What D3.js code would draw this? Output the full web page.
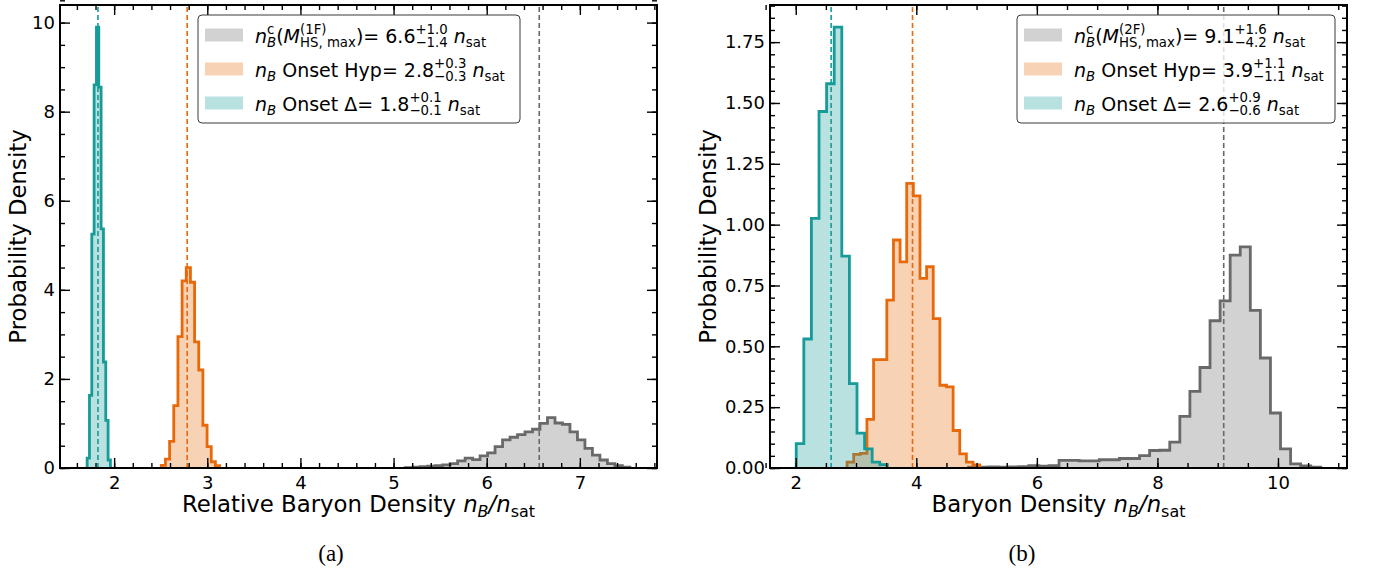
<!DOCTYPE html>
<html>
<head>
<meta charset="utf-8">
<script src="https://cdn.jsdelivr.net/npm/d3@7"></script>
<style>
  body { margin: 0; background: #fff; }
  svg { display: block; }
  text { white-space: pre; }
</style>
</head>
<body>
<svg id="fig" width="1377" height="569"></svg>
<script>
// ---------- panel (a): 1F model ----------
// histogram bins: first left edge, bin width, normalised densities
const aMaxStart = 5.125, aMaxWidth = 0.0804;
const aMaxDensity = [0.01, 0.02, 0.03, 0.04, 0.05, 0.07, 0.10, 0.16, 0.22, 0.19,
                     0.27, 0.34, 0.48, 0.63, 0.69, 0.75, 0.81, 0.87, 1.00, 1.13,
                     1.01, 0.98, 0.81, 0.63, 0.44, 0.29, 0.18, 0.10, 0.05, 0.02];
const aHypStart = 2.506, aHypWidth = 0.0447;
const aHypDensity = [0.06, 0.20, 0.60, 1.40, 2.95, 4.20, 4.50, 4.17, 2.83, 2.20, 0.96, 0.48, 0.14, 0.05];
const aDeltaStart = 1.71, aDeltaWidth = 0.025;
const aDeltaDensity = [0.22, 1.63, 5.25, 8.60, 9.90, 8.55, 5.37, 2.38, 1.07, 0.18];
// medians and spreads, order: max-mass density, hyperon onset, Delta onset
const aMedian = [6.564, 2.784, 1.826];
const aErrPlus = [1.0, 0.3, 0.1];
const aErrMinus = [1.4, 0.3, 0.1];
const aXTicks = [2, 3, 4, 5, 6, 7];
const aYTicks = [0, 2, 4, 6, 8, 10];

// ---------- panel (b): 2F model ----------
const bMaxStart = 4.865, bMaxWidth = 0.167;
const bMaxDensity = [0.004, 0.004, 0.005, 0.004, 0.005, 0.006, 0.010, 0.008, 0.010, 0.031,
                     0.031, 0.029, 0.029, 0.034, 0.034, 0.039, 0.039, 0.051, 0.072, 0.073,
                     0.106, 0.212, 0.315, 0.413, 0.605, 0.687, 0.875, 0.909, 0.648, 0.452,
                     0.226, 0.079, 0.017, 0.009, 0.004];
const bHypStart = 2.851, bHypWidth = 0.11;
const bHypDensity = [0.024, 0.056, 0.060, 0.200, 0.445, 0.445, 0.690, 0.937, 0.847, 1.170,
                     1.118, 0.779, 0.827, 0.614, 0.340, 0.333, 0.154, 0.058, 0.024, 0.013];
const bDeltaStart = 2.008, bDeltaWidth = 0.126;
const bDeltaDensity = [0.100, 0.530, 1.026, 1.465, 1.579, 1.812, 0.871, 0.347, 0.143, 0.079, 0.024, 0.014];
const bMedian = [9.1, 3.937, 2.587];
const bErrPlus = [1.6, 1.1, 0.9];
const bErrMinus = [4.2, 1.1, 0.6];
const bXTicks = [2, 4, 6, 8, 10];
const bYTicks = [0, 0.25, 0.5, 0.75, 1.0, 1.25, 1.5, 1.75];

// ---------- styling ----------
const colMax = "#696969", colHyp = "#e8690a", colDelta = "#179b98";
const FONT = "DejaVu Sans";
const svg = d3.select("#fig");
const fmt1 = d3.format(".1f");

// lay out a run of text pieces (italic / sub / sup / stacked) measured one by one
function mathText(parent, tokens, size, opts = {}) {
  const g = parent.append("g");
  let cx = 0, lastX = 0, lastW = 0;
  tokens.forEach(tok => {
    const fs = size * (tok.sc || 1);
    const x0 = tok.stack ? lastX : cx;
    const t = g.append("text")
      .attr("x", x0).attr("y", (tok.dy || 0) * size)
      .attr("font-family", FONT).attr("font-size", fs)
      .attr("font-style", tok.it ? "italic" : "normal")
      .attr("fill", "#000")
      .text(tok.s);
    const w = t.node().getComputedTextLength();
    if (tok.stack) {
      cx = lastX + Math.max(lastW, w);
      lastW = Math.max(lastW, w);
    } else {
      lastX = x0; lastW = w; cx = x0 + w;
    }
  });
  const total = cx;
  if (opts.rotate) {
    g.attr("transform", `translate(${opts.px},${opts.py}) rotate(-90) translate(${-total / 2},0)`);
  } else {
    g.attr("transform", `translate(${opts.px + (opts.anchor === "middle" ? -total / 2 : 0)},${opts.py})`);
  }
  return g;
}
const SUB = { sc: 0.7, dy: 0.22 }, SUP = { sc: 0.7, dy: -0.45 };
const nB = [{ s: "n", it: true }, { s: "B", it: true, ...SUB }];
const nSat = [{ s: "n", it: true }, { s: "sat", ...SUB }];
const errPair = (p, m) => [{ s: "+" + fmt1(p), ...SUP }, { s: "\u2212" + fmt1(m), ...SUB, stack: true }];

function histPoints(start, width, dens) {
  const pts = [[start, 0]];
  dens.forEach((v, i) => { pts.push([start + i * width, v]); pts.push([start + (i + 1) * width, v]); });
  pts.push([start + dens.length * width, 0]);
  return pts;
}

function panel(cfg) {
  const { box, series, xTicks, xMinor, yTicks, yMinor, yFmt, xLabel, yLabelX, legendBox, tag } = cfg;
  // matplotlib-like autoscale: 5% margin in x, 5% headroom in y
  const lo = d3.min(series, s => s.start);
  const hi = d3.max(series, s => s.start + s.dens.length * s.width);
  const pad = 0.05 * (hi - lo);
  const ymax = d3.max(series, s => d3.max(s.dens)) * 1.05;
  const x = d3.scaleLinear().domain([lo - pad, hi + pad]).range([box.x0, box.x1]);
  const y = d3.scaleLinear().domain([0, ymax]).range([box.y1, box.y0]);
  const g = svg.append("g");
  const line = d3.line().x(d => x(d[0])).y(d => y(d[1]));

  series.forEach(s => {
    const pts = histPoints(s.start, s.width, s.dens);
    g.append("path").attr("d", line(pts)).attr("fill", s.color).attr("fill-opacity", 0.3).attr("stroke", "none");
    g.append("path").attr("d", line(pts)).attr("fill", "none").attr("stroke", s.color)
      .attr("stroke-width", 2.8).attr("stroke-linejoin", "miter");
    g.append("line").attr("x1", x(s.median)).attr("x2", x(s.median))
      .attr("y1", box.y1).attr("y2", box.y0)
      .attr("stroke", s.color).attr("stroke-width", 1.6).attr("stroke-dasharray", "5,3");
  });

  // ticks pointing inward on all four sides
  const tickStyle = sel => {
    sel.select(".domain").remove();
    sel.selectAll(".tick line").attr("stroke", "#000").attr("stroke-width", 1.4);
    sel.selectAll("text").attr("font-family", FONT).attr("font-size", 18).attr("fill", "#000");
  };
  const ax = (gen, tx, ty) => g.append("g").attr("transform", `translate(${tx},${ty})`).call(gen).call(tickStyle);
  ax(d3.axisBottom(x).tickValues(xTicks).tickSize(-10).tickPadding(8).tickFormat(d3.format("d")), 0, box.y1);
  ax(d3.axisBottom(x).tickValues(xMinor).tickSize(-5).tickFormat(""), 0, box.y1);
  ax(d3.axisTop(x).tickValues(xTicks).tickSize(-10).tickFormat(""), 0, box.y0);
  ax(d3.axisTop(x).tickValues(xMinor).tickSize(-5).tickFormat(""), 0, box.y0);
  ax(d3.axisLeft(y).tickValues(yTicks).tickSize(-10).tickPadding(5).tickFormat(yFmt), box.x0, 0);
  ax(d3.axisLeft(y).tickValues(yMinor).tickSize(-5).tickFormat(""), box.x0, 0);
  ax(d3.axisRight(y).tickValues(yTicks).tickSize(-10).tickFormat(""), box.x1, 0);
  ax(d3.axisRight(y).tickValues(yMinor).tickSize(-5).tickFormat(""), box.x1, 0);

  g.append("rect").attr("x", box.x0).attr("y", box.y0)
    .attr("width", box.x1 - box.x0).attr("height", box.y1 - box.y0)
    .attr("fill", "none").attr("stroke", "#000").attr("stroke-width", 2);

  // axis titles
  mathText(g, xLabel, 22.8, { px: (box.x0 + box.x1) / 2, py: 512, anchor: "middle" });
  mathText(g, [{ s: "Probability Density" }], 22.8, { px: yLabelX, py: (box.y0 + box.y1) / 2, rotate: true });

  // legend
  const lg = g.append("g");
  lg.append("rect").attr("x", legendBox.x).attr("y", legendBox.y)
    .attr("width", legendBox.w).attr("height", legendBox.h).attr("rx", 4)
    .attr("fill", "#fff").attr("fill-opacity", 0.8).attr("stroke", "#3a3a3a").attr("stroke-width", 1);
  series.forEach((s, i) => {
    const cy = legendBox.y + 20 + i * 34;
    lg.append("rect").attr("x", legendBox.x + 7).attr("y", cy - 6.5).attr("width", 38).attr("height", 13)
      .attr("fill", s.color).attr("fill-opacity", 0.3);
    mathText(lg, s.label, 19, { px: legendBox.x + 57, py: cy + 7.5 });
  });

  svg.append("text").attr("x", tag.x).attr("y", 561).attr("text-anchor", "middle")
    .attr("font-family", "Liberation Serif").attr("font-size", 23).attr("fill", "#000").text(tag.s);
}

const minorTicks = (a, b, step) => d3.range(a, b + 1e-9, step).map(v => +v.toFixed(4));

panel({
  box: { x0: 60, x1: 657, y0: 5, y1: 468 },
  series: [
    { start: aMaxStart, width: aMaxWidth, dens: aMaxDensity, color: colMax, median: aMedian[0],
      label: [{ s: "n", it: true }, { s: "c", ...SUP }, { s: "B", it: true, ...SUB, stack: true },
              { s: "(" }, { s: "M", it: true }, { s: "(1F)", ...SUP }, { s: "HS, max", ...SUB, stack: true },
              { s: ")= " + fmt1(aMedian[0]) }, ...errPair(aErrPlus[0], aErrMinus[0]), { s: " " }, ...nSat] },
    { start: aHypStart, width: aHypWidth, dens: aHypDensity, color: colHyp, median: aMedian[1],
      label: [...nB, { s: " Onset Hyp= " + fmt1(aMedian[1]) }, ...errPair(aErrPlus[1], aErrMinus[1]), { s: " " }, ...nSat] },
    { start: aDeltaStart, width: aDeltaWidth, dens: aDeltaDensity, color: colDelta, median: aMedian[2],
      label: [...nB, { s: " Onset \u0394= " + fmt1(aMedian[2]) }, ...errPair(aErrPlus[2], aErrMinus[2]), { s: " " }, ...nSat] }
  ],
  xTicks: aXTicks, xMinor: minorTicks(1.6, 7.8, 0.2),
  yTicks: aYTicks, yMinor: minorTicks(0, 10.5, 0.5), yFmt: d3.format("d"),
  xLabel: [{ s: "Relative Baryon Density " }, ...nB, { s: "/", it: true }, ...nSat],
  yLabelX: 26,
  legendBox: { x: 198, y: 15, w: 322, h: 108 },
  tag: { x: 331, s: "(a)" }
});

panel({
  box: { x0: 770, x1: 1347, y0: 5, y1: 468 },
  series: [
    { start: bMaxStart, width: bMaxWidth, dens: bMaxDensity, color: colMax, median: bMedian[0],
      label: [{ s: "n", it: true }, { s: "c", ...SUP }, { s: "B", it: true, ...SUB, stack: true },
              { s: "(" }, { s: "M", it: true }, { s: "(2F)", ...SUP }, { s: "HS, max", ...SUB, stack: true },
              { s: ")= " + fmt1(bMedian[0]) }, ...errPair(bErrPlus[0], bErrMinus[0]), { s: " " }, ...nSat] },
    { start: bHypStart, width: bHypWidth, dens: bHypDensity, color: colHyp, median: bMedian[1],
      label: [...nB, { s: " Onset Hyp= " + fmt1(bMedian[1]) }, ...errPair(bErrPlus[1], bErrMinus[1]), { s: " " }, ...nSat] },
    { start: bDeltaStart, width: bDeltaWidth, dens: bDeltaDensity, color: colDelta, median: bMedian[2],
      label: [...nB, { s: " Onset \u0394= " + fmt1(bMedian[2]) }, ...errPair(bErrPlus[2], bErrMinus[2]), { s: " " }, ...nSat] }
  ],
  xTicks: bXTicks, xMinor: minorTicks(1.5, 11, 0.5),
  yTicks: bYTicks, yMinor: minorTicks(0, 1.9, 0.05), yFmt: d3.format(".2f"),
  xLabel: [{ s: "Baryon Density " }, ...nB, { s: "/", it: true }, ...nSat],
  yLabelX: 716,
  legendBox: { x: 1017, y: 15, w: 318, h: 108 },
  tag: { x: 1022, s: "(b)" }
});
</script>
</body>
</html>
